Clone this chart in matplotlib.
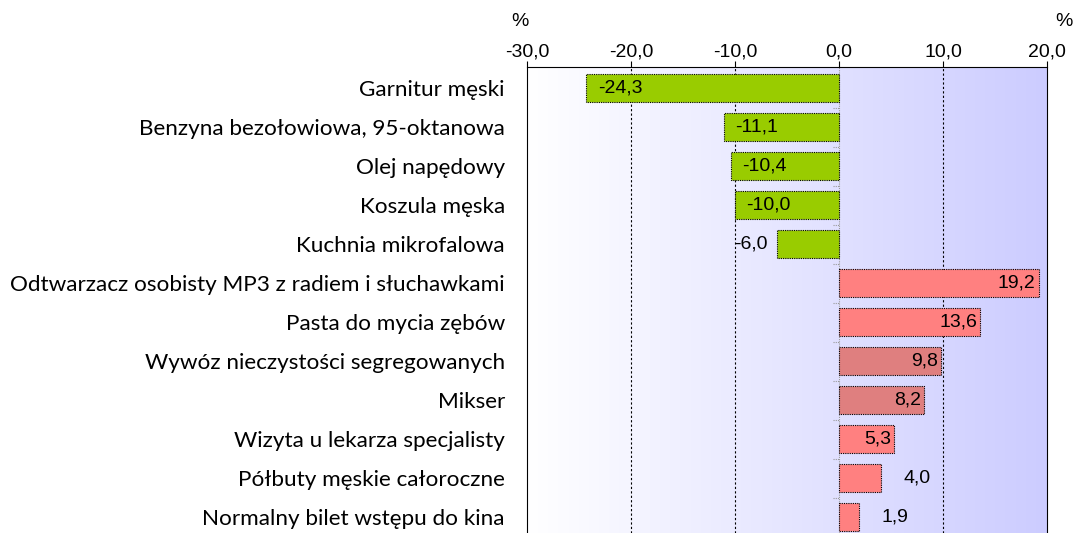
import numpy as np
import matplotlib.pyplot as plt
from matplotlib.colors import LinearSegmentedColormap

plt.rcParams['font.family'] = ['Liberation Sans', 'DejaVu Sans']

# data
categories = [
    "Garnitur męski",
    "Benzyna bezołowiowa, 95-oktanowa",
    "Olej napędowy",
    "Koszula męska",
    "Kuchnia mikrofalowa",
    "Odtwarzacz osobisty MP3 z radiem i słuchawkami",
    "Pasta do mycia zębów",
    "Wywóz nieczystości segregowanych",
    "Mikser",
    "Wizyta u lekarza specjalisty",
    "Półbuty męskie całoroczne",
    "Normalny bilet wstępu do kina",
]
values = [-24.3, -11.1, -10.4, -10.0, -6.0, 19.2, 13.6, 9.8, 8.2, 5.3, 4.0, 1.9]
bar_colors = ["#99cc00"] * 5 + ["#ff8080", "#ff8080", "#df7f7f", "#df7f7f",
                                "#ff8080", "#ff8080", "#ff8080"]
x_ticks = [-30, -20, -10, 0, 10, 20]

fig = plt.figure(figsize=(10.79, 5.33), dpi=100)
ax = fig.add_axes([527 / 1079, 0.0, 520 / 1079, 1 - 67 / 533])

x_min, x_max = -30, 20
y_top, y_bot = -0.54, 11.41

# gradient background
grad = np.linspace(0, 1, 256).reshape(1, -1)
cmap = LinearSegmentedColormap.from_list("bg", ["#ffffff", "#ccccff"])
ax.imshow(grad, cmap=cmap, aspect="auto", extent=[x_min, x_max, y_bot, y_top],
          zorder=0)

y = np.arange(len(categories))
ax.barh(y, values, height=0.7, color=bar_colors, edgecolor="black",
        linewidth=0.8, linestyle=(0, (1, 1)), zorder=3)

# grid lines
for t in [-20, -10, 10]:
    ax.axvline(t, color="black", linewidth=0.8, linestyle=(0, (2, 2)), zorder=1)
ax.axvline(0, color="#999999", linewidth=0.8, linestyle=(0, (1, 1)), zorder=2)

# small category ticks at zero
for b in np.arange(len(categories) - 1) + 0.5:
    ax.plot([-0.6, 0], [b, b], color="#999999", linewidth=0.8,
            linestyle=(0, (1, 1)), zorder=2)

# value labels
for i, v in enumerate(values):
    txt = f"{v:.1f}".replace(".", ",")
    if v < 0:
        if abs(v) > 8:
            ax.text(v + 1.1, i, txt, ha="left", va="center", fontsize=14, zorder=4)
        else:
            ax.text(v - 0.9, i, txt, ha="right", va="center", fontsize=14, zorder=4)
    else:
        if v > 5:
            ax.text(v - 0.3, i, txt, ha="right", va="center", fontsize=14, zorder=4)
        else:
            ax.text(v + 2.2, i, txt, ha="left", va="center", fontsize=14, zorder=4)

ax.set_xlim(x_min, x_max)
ax.set_ylim(y_bot, y_top)

ax.xaxis.tick_top()
ax.set_xticks(x_ticks)
ax.set_xticklabels([f"{t:.1f}".replace(".", ",") for t in x_ticks], fontsize=14)
ax.tick_params(axis="x", length=4, width=0.8, pad=1)

ax.set_yticks(y)
ax.set_yticklabels(categories, fontsize=16.2, family=['Lato', 'DejaVu Sans'])
ax.tick_params(axis="y", length=0, pad=16)

for side in ["top", "left", "right"]:
    ax.spines[side].set_linestyle((0, (1, 1)))
    ax.spines[side].set_linewidth(0.8)
ax.spines["bottom"].set_visible(False)

fig.text(520 / 1079, 1 - 21 / 533, "%", ha="center", va="center", fontsize=14)
fig.text(1064 / 1079, 1 - 21 / 533, "%", ha="center", va="center", fontsize=14)

fig.savefig("out.png", dpi=100)
